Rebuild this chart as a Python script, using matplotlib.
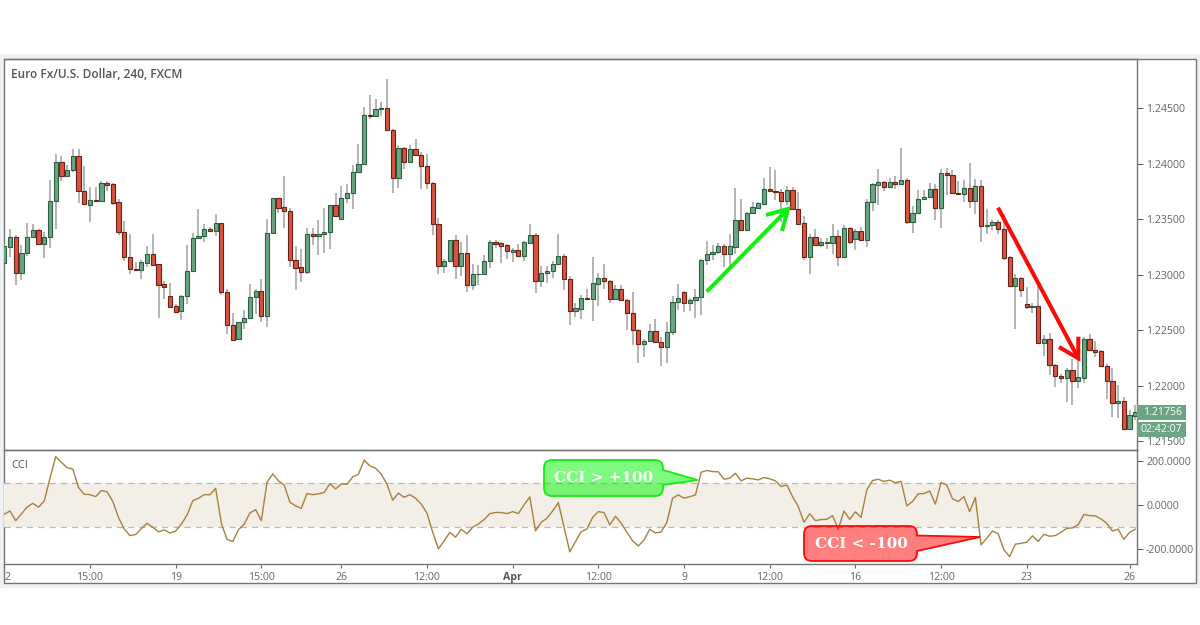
import numpy as np
import matplotlib
matplotlib.use("Agg")
import matplotlib.pyplot as plt
from matplotlib.patches import PathPatch, Rectangle
from matplotlib.path import Path

# EUR/USD 4h candles, in points (1e-5)
opens = [
    123109, 123253, 123343, 123016, 123196, 123340, 123403, 123280, 123340, 123667,
    124012, 123892, 123943, 124072, 123754, 123631, 123676, 123664, 123826, 123817,
    123652, 123385, 123163, 123052, 123040, 123109, 123190, 123094, 122914, 122812,
    122716, 122671, 122809, 123031, 123331, 123349, 123412, 123391, 123463, 122845,
    122545, 122416, 122569, 122614, 122800, 122857, 122629, 123376, 123688, 123610,
    123574, 123136, 123067, 123025, 123370, 123352, 123367, 123385, 123625, 123505,
    123694, 123736, 123925, 124000, 124441, 124429, 124492, 124501, 124306, 123874,
    124144, 124015, 124135, 124081, 123976, 123829, 123460, 123076, 123127, 123310,
    123076, 123199, 122911, 123004, 123007, 123127, 123292, 123283, 123265, 123202,
    123223, 123169, 123289, 123361, 122947, 123016, 123031, 123097, 123172, 122965,
    122671, 122695, 122794, 122782, 122920, 122974, 122947, 122782, 122872, 122776,
    122656, 122500, 122371, 122398, 122494, 122389, 122350, 122482, 122755, 122845,
    122749, 122776, 122800, 123136, 123187, 123202, 123256, 123187, 123253, 123490,
    123400, 123556, 123604, 123640, 123772, 123754, 123748, 123664, 123763, 123592,
    123463, 123160, 123343, 123265, 123286, 123286, 123352, 123160, 123421, 123325,
    123394, 123313, 123652, 123811, 123832, 123787, 123838, 123820, 123856, 123475,
    123553, 123682, 123700, 123772, 123598, 123919, 123901, 123736, 123727, 123784,
    123664, 123799, 123442, 123451, 123472, 123409, 123157, 122902, 122974, 122740,
    122713, 122722, 122386, 122416, 122182, 122089, 122071, 122140, 122038, 122071,
    122416, 122323, 122308, 122176, 122038, 121840, 121861, 121609, 121726,
]
closes = [
    123256, 123343, 123016, 123196, 123343, 123403, 123280, 123343, 123667, 124012,
    123892, 123943, 124072, 123754, 123634, 123676, 123664, 123823, 123811, 123646,
    123385, 123163, 123049, 123040, 123112, 123190, 123091, 122911, 122887, 122713,
    122668, 122812, 123037, 123334, 123352, 123412, 123391, 123463, 122845, 122545,
    122410, 122569, 122614, 122803, 122857, 122629, 123379, 123688, 123604, 123571,
    123136, 123064, 123022, 123370, 123349, 123370, 123388, 123625, 123529, 123694,
    123739, 123928, 124000, 124441, 124432, 124495, 124501, 124303, 123874, 124144,
    124015, 124135, 124081, 123976, 123829, 123460, 123076, 123127, 123310, 123076,
    123199, 122911, 123007, 123010, 123127, 123292, 123280, 123262, 123214, 123223,
    123169, 123292, 123361, 122947, 123019, 123037, 123100, 123172, 122962, 122671,
    122698, 122794, 122785, 122923, 122974, 122947, 122782, 122872, 122770, 122656,
    122500, 122371, 122401, 122494, 122389, 122350, 122485, 122758, 122794, 122746,
    122776, 122803, 123136, 123190, 123205, 123256, 123184, 123256, 123490, 123400,
    123559, 123607, 123643, 123772, 123754, 123745, 123664, 123763, 123589, 123460,
    123160, 123343, 123265, 123292, 123292, 123352, 123160, 123421, 123295, 123397,
    123316, 123652, 123814, 123832, 123787, 123838, 123820, 123856, 123475, 123556,
    123685, 123703, 123772, 123598, 123919, 123898, 123736, 123727, 123784, 123664,
    123799, 123439, 123451, 123472, 123409, 123151, 122902, 122974, 122860, 122713,
    122722, 122386, 122416, 122182, 122089, 122071, 122143, 122038, 122074, 122416,
    122320, 122302, 122176, 122038, 121840, 121861, 121609, 121732, 121762,
]
highs = [
    123280, 123415, 123355, 123265, 123466, 123460, 123415, 123385, 123856, 124084,
    124066, 123985, 124129, 124135, 123979, 123790, 123790, 123841, 123841, 123826,
    123685, 123481, 123364, 123115, 123130, 123256, 123370, 123100, 122941, 122929,
    122740, 122815, 123265, 123379, 123595, 123454, 123430, 123550, 123469, 122872,
    122659, 122575, 122680, 122914, 122875, 122965, 123505, 123691, 123691, 123886,
    123604, 123259, 123232, 123424, 123421, 123490, 123604, 123625, 123736, 123802,
    123814, 123985, 124174, 124510, 124615, 124579, 124555, 124759, 124312, 124165,
    124150, 124165, 124219, 124105, 124090, 123835, 123514, 123145, 123316, 123361,
    123295, 123361, 123100, 123091, 123175, 123310, 123310, 123292, 123280, 123241,
    123280, 123301, 123454, 123379, 123079, 123076, 123121, 123370, 123190, 122989,
    122749, 122815, 122875, 123160, 123016, 123100, 122950, 122905, 122905, 122785,
    122845, 122509, 122416, 122554, 122605, 122434, 122569, 122809, 122914, 122851,
    122791, 122875, 123139, 123304, 123265, 123286, 123280, 123364, 123784, 123685,
    123565, 123655, 123655, 123874, 123970, 123940, 123775, 123799, 123790, 123745,
    123526, 123364, 123415, 123334, 123334, 123460, 123406, 123445, 123430, 123415,
    123430, 123685, 123826, 123955, 123841, 123874, 123886, 124144, 123874, 123619,
    123766, 123760, 123829, 123820, 123955, 123964, 123940, 123844, 123856, 124006,
    123865, 123850, 123595, 123496, 123490, 123550, 123166, 123010, 122980, 122890,
    122749, 122905, 122455, 122470, 122194, 122101, 122155, 122236, 122320, 122440,
    122461, 122404, 122320, 122194, 122161, 122005, 121894, 121780, 121825,
]
lows = [
    123100, 123160, 122908, 122950, 123169, 123331, 123271, 123151, 123244, 123409,
    123844, 123886, 123925, 123646, 123625, 123475, 123661, 123655, 123754, 123625,
    123361, 123124, 123010, 123034, 122962, 123070, 123085, 122611, 122785, 122710,
    122662, 122590, 122740, 123025, 123325, 123295, 123385, 123346, 122821, 122461,
    122404, 122410, 122506, 122605, 122650, 122575, 122524, 123370, 123559, 123424,
    123070, 122866, 122935, 123010, 123265, 123175, 123199, 123235, 123520, 123499,
    123646, 123595, 123919, 123991, 124405, 124420, 124426, 124300, 123736, 123784,
    123955, 124015, 124075, 123775, 123775, 123355, 123010, 123016, 123124, 122959,
    122986, 122848, 122866, 122911, 123004, 123064, 123244, 123106, 123145, 123115,
    123160, 123124, 123286, 122833, 122890, 122926, 122971, 123091, 122866, 122545,
    122620, 122605, 122776, 122584, 122719, 122875, 122749, 122776, 122764, 122500,
    122368, 122200, 122260, 122395, 122380, 122176, 122206, 122455, 122680, 122665,
    122671, 122611, 122635, 123085, 123130, 123190, 123070, 123040, 123184, 123394,
    123394, 123550, 123601, 123634, 123745, 123670, 123475, 123625, 123580, 123454,
    123136, 123004, 123259, 123250, 123235, 123184, 123082, 123157, 123274, 123226,
    123310, 123250, 123571, 123631, 123751, 123784, 123769, 123814, 123460, 123376,
    123550, 123676, 123694, 123490, 123424, 123715, 123730, 123721, 123655, 123604,
    123550, 123295, 123364, 123400, 123370, 123130, 122896, 122506, 122800, 122689,
    122659, 122380, 122266, 122095, 121990, 122026, 121855, 121825, 121975, 122026,
    122314, 122254, 122164, 121882, 121720, 121705, 121606, 121606, 121690,
]
cci = [
    -41, -26, -70, -39, -8, 9, -9, 20, 123, 221,
    195, 171, 164, 80, 50, 48, 39, 67, 61, 17,
    -56, -108, -138, -133, -106, -82, -100, -121, -112, -126,
    -117, -86, -44, 21, 32, 48, 48, 77, -82, -155,
    -165, -111, -86, -35, -20, -70, 105, 142, 111, 92,
    14, -3, -14, 53, 48, 52, 58, 98, 74, 97,
    95, 129, 141, 205, 179, 168, 141, 95, 23, 55,
    36, 48, 32, 5, -36, -123, -198, -162, -123, -145,
    -109, -130, -100, -85, -65, -38, -33, -33, -38, -29,
    -38, 2, 38, -117, -77, -59, -26, 12, -100, -212,
    -165, -120, -108, -55, -29, -33, -89, -50, -82, -123,
    -162, -185, -158, -109, -126, -121, -77, 32, 47, 32,
    39, 47, 150, 158, 153, 152, 118, 123, 145, 111,
    123, 120, 115, 126, 120, 111, 85, 92, 39, -6,
    -77, -39, -70, -65, -64, -47, -109, -26, -64, -30,
    -55, 70, 112, 118, 108, 114, 102, 109, -3, 17,
    52, 53, 65, 5, 103, 92, 29, 17, 39, -29,
    35, -180, -150, -117, -130, -203, -233, -177, -173, -168,
    -139, -164, -132, -141, -138, -123, -105, -103, -89, -42,
    -47, -48, -62, -82, -117, -109, -155, -123, -109,
]
time_ticks = [0, 15, 30, 45, 59, 74, 89, 104, 119, 134, 149, 164, 179, 197]
time_labels = ["2", "15:00", "19", "15:00", "26", "12:00", "Apr", "12:00", "9",
               "12:00", "16", "12:00", "23", "26"]
price_ticks = [1.215, 1.22, 1.225, 1.23, 1.235, 1.24, 1.245]
cci_ticks = [-200, 0, 200]
last_price = 1.21756

UP, DOWN = "#6ba583", "#d75442"
UP_EDGE, DOWN_EDGE = "#2a5f40", "#6f2015"
GREY = "#666666"
FRAME = "#757575"
W, H = 1200, 625
plt.rcParams["font.family"] = ["Open Sans", "DejaVu Sans"]


def px_axes(fig, left, top, right, bottom):
    return fig.add_axes([left / W, 1 - bottom / H, (right - left) / W, (bottom - top) / H])


def callout(left, top, right, bottom, r, tip, base_top, base_bottom):
    # rounded box with a pointer on its right side
    verts = [(left + r, top), (right - r, top), (right, top), (right, top + r),
             (right, base_top), tip, (right, base_bottom),
             (right, bottom - r), (right, bottom), (right - r, bottom),
             (left + r, bottom), (left, bottom), (left, bottom - r),
             (left, top + r), (left, top), (left + r, top), (left + r, top)]
    codes = [Path.MOVETO, Path.LINETO, Path.CURVE3, Path.CURVE3,
             Path.LINETO, Path.LINETO, Path.LINETO,
             Path.LINETO, Path.CURVE3, Path.CURVE3,
             Path.LINETO, Path.CURVE3, Path.CURVE3,
             Path.LINETO, Path.CURVE3, Path.CURVE3, Path.CLOSEPOLY]
    return Path(verts, codes)


fig = plt.figure(figsize=(12, 6.25), dpi=100, facecolor="white")

# page strip and frame behind the chart
bg = fig.add_axes([0, 0, 1, 1], zorder=0)
bg.set_xlim(0, W)
bg.set_ylim(H, 0)
bg.axis("off")
bg.add_patch(Rectangle((0, 54), W, 534, facecolor="#eff2f5", edgecolor="none"))
bg.add_patch(Rectangle((3.5, 58.5), 1192, 524, facecolor="white", edgecolor=FRAME, linewidth=1.0))

x = np.arange(len(closes))
o = np.array(opens) / 1e5
c = np.array(closes) / 1e5
hi = np.array(highs) / 1e5
lo = np.array(lows) / 1e5
up = c >= o

ax = px_axes(fig, 4, 58.5, 1137, 450)
ax.set_zorder(1)
ax.vlines(x, lo, hi, color="#a0a0a0", linewidth=1.1, zorder=1)
ax.bar(x[up], (c - o)[up], bottom=o[up], width=0.74, color=UP, edgecolor=UP_EDGE, linewidth=0.8, zorder=2)
ax.bar(x[~up], (c - o)[~up], bottom=o[~up], width=0.74, color=DOWN, edgecolor=DOWN_EDGE, linewidth=0.8, zorder=2)
ax.set_xlim(-0.05, 198.3)
ax.set_ylim(1.2142, 1.24948)
ax.yaxis.tick_right()
ax.set_yticks(price_ticks)
ax.set_yticklabels([f"{t:.5f}" for t in price_ticks])
ax.tick_params(axis="y", length=4, width=0.8, color=GREY, labelcolor=GREY, labelsize=7.6, pad=2.5)
ax.set_xticks([])
ax.text(11, 74, "Euro Fx/U.S. Dollar, 240, FXCM", transform=bg.transData, color="#555555",
        fontsize=8.55, fontweight="semibold", va="center", ha="left", zorder=5)

ax2 = px_axes(fig, 4, 450, 1137, 564)
ax2.set_zorder(1)
ax2.axhspan(-100, 100, color="#f3eee6", linewidth=0, zorder=0)
ax2.axhline(100, color="#b8b8b8", linewidth=0.9, linestyle=(0, (5, 4)), zorder=1)
ax2.axhline(-100, color="#b8b8b8", linewidth=0.9, linestyle=(0, (5, 4)), zorder=1)
ax2.plot(x, cci, color="#a9803f", linewidth=1.0, zorder=2)
ax2.set_xlim(-0.05, 198.3)
ax2.set_ylim(-267, 251)
ax2.yaxis.tick_right()
ax2.set_yticks(cci_ticks)
ax2.set_yticklabels([f"{t:.4f}" for t in cci_ticks])
ax2.tick_params(axis="y", length=4, width=0.8, color=GREY, labelcolor=GREY, labelsize=7.6, pad=2.5)
ax2.set_xticks(time_ticks)
ax2.set_xticklabels(time_labels)
ax2.tick_params(axis="x", length=3, width=0.8, color=GREY, labelcolor=GREY, labelsize=7.6, pad=2.5)
for lab, name in zip(ax2.get_xticklabels(), time_labels):
    if name == "Apr":
        lab.set_fontweight("bold")
        lab.set_color("#555555")
ax2.get_xticklabels()[0].set_ha("left")
ax2.text(11, 466, "CCI", transform=bg.transData, color="#555555", fontsize=7.9, va="center", zorder=5)

for a in (ax, ax2):
    a.patch.set_alpha(0)
    for s in a.spines.values():
        s.set_color(FRAME)
        s.set_linewidth(1.0)
    a.spines["left"].set_visible(False)

# hand drawn marks on top of the chart
ov = fig.add_axes([0, 0, 1, 1], zorder=3)
ov.set_xlim(0, W)
ov.set_ylim(H, 0)
ov.axis("off")
for seg, col in (([(706.7, 291.7), (788, 209)], "#12ee12"),
                 ([(766, 215), (788, 209), (782, 231)], "#12ee12"),
                 ([(998, 207.7), (1078.3, 358.3)], "#ff0808"),
                 ([(1059, 347), (1078.3, 358.3), (1078.3, 336.7)], "#ff0808")):
    ov.plot(*zip(*seg), color=col, linewidth=2.9, solid_capstyle="butt", solid_joinstyle="miter", clip_on=False)

ov.add_patch(PathPatch(callout(544, 460, 663, 496, 8, (697.5, 480), 470, 485),
                       facecolor=(0.0, 0.96, 0.0, 0.5), edgecolor="#12ee12", linewidth=1.3))
ov.text(604, 478, "CCI > +100", color="white", fontsize=11, fontweight="bold", family="DejaVu Serif",
        ha="center", va="center")
ov.add_patch(PathPatch(callout(804, 526, 917, 561, 8, (980, 537), 535.5, 551),
                       facecolor=(1.0, 0.0, 0.0, 0.5), edgecolor="#ff0808", linewidth=1.3))
ov.text(861, 543.5, "CCI < -100", color="white", fontsize=11, fontweight="bold", family="DejaVu Serif",
        ha="center", va="center")

# last price tags
ov.add_patch(Rectangle((1136.5, 405), 49.5, 15, facecolor=UP, edgecolor="none"))
ov.add_patch(Rectangle((1136.5, 421.5), 49.5, 15, facecolor=UP, edgecolor="none"))
ov.text(1163, 412.5, f"{last_price:.5f}", color="white", fontsize=7.6, ha="center", va="center")
ov.text(1161, 429, "02:42:07", color="white", fontsize=7.6, ha="center", va="center")

fig.savefig("out.png", dpi=100)
